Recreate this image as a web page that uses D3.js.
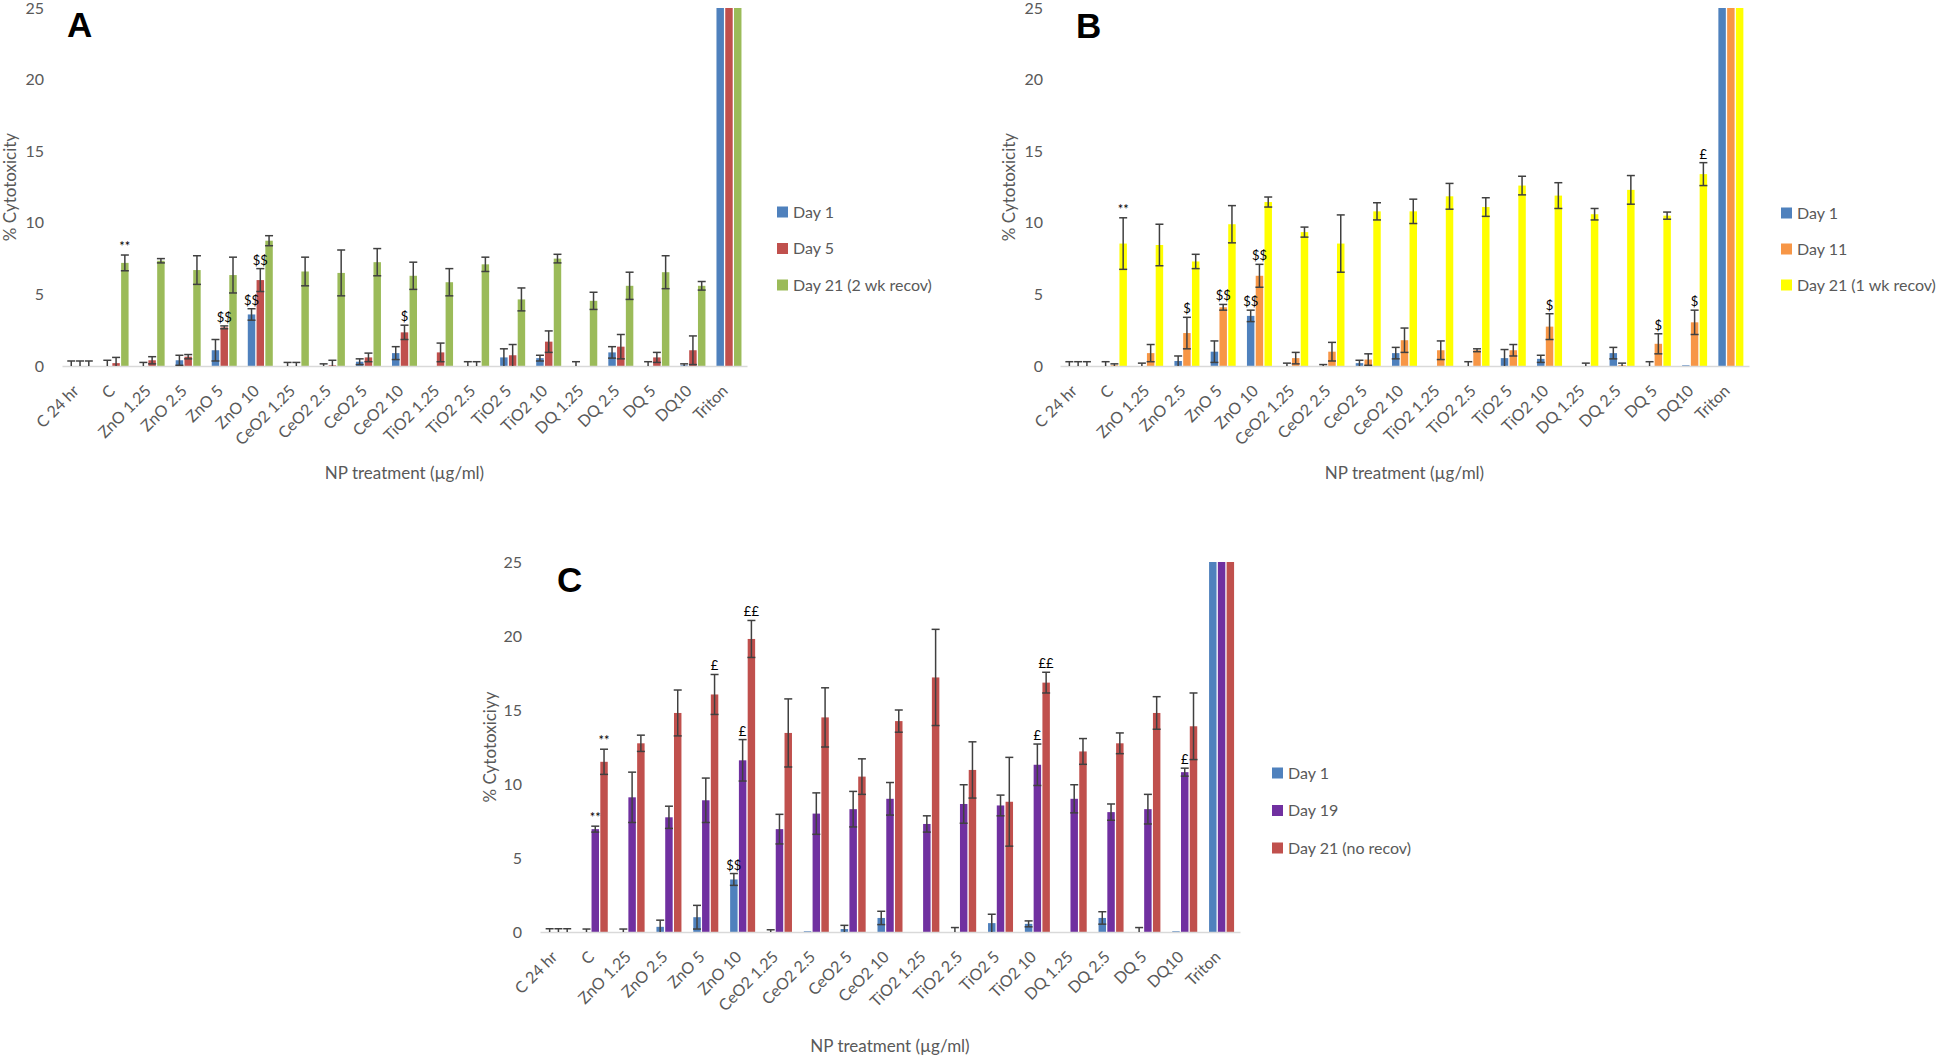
<!DOCTYPE html>
<html>
<head>
	<title>NP cytotoxicity</title>
	<script src="https://d3js.org/d3.v7.min.js"></script>
	<style type="text/css">
	html, body{
		margin:0;
		background:#fff;
	}
	svg text{
		font-family: Lato, "Open Sans", sans-serif;
	}
	</style>
</head>
<body>
<svg id="chart" width="1946" height="1057"></svg>
<script type="text/javascript">

var cats = ["C 24 hr","C","ZnO 1.25","ZnO 2.5","ZnO 5","ZnO 10","CeO2 1.25","CeO2 2.5","CeO2 5","CeO2 10","TiO2 1.25","TiO2 2.5","TiO2 5","TiO2 10","DQ 1.25","DQ 2.5","DQ 5","DQ10","Triton"];
var yTicks = [0, 5, 10, 15, 20, 25];

// panel A
var a_day1      = [0, 0, 0, 0.4, 1.1, 3.6, 0, 0, 0.3, 0.9, 0, 0, 0.6, 0.55, 0, 0.95, 0, 0.05, 100];
var a_day1_err  = [0.35, 0.4, 0.25, 0.35, 0.75, 0.4, 0.25, 0.15, 0.2, 0.45, 0, 0.3, 0.6, 0.2, 0.3, 0.4, 0.3, 0.1, 0];
var a_day5      = [0, 0.2, 0.4, 0.65, 2.7, 6.0, 0, 0.05, 0.6, 2.35, 0.95, 0, 0.75, 1.7, 0, 1.35, 0.6, 1.1, 100];
var a_day5_err  = [0.35, 0.4, 0.25, 0.15, 0.1, 0.8, 0.25, 0.35, 0.3, 0.5, 0.65, 0.3, 0.75, 0.75, 0, 0.85, 0.35, 1.0, 0];
var a_day21     = [0, 7.2, 7.35, 6.7, 6.35, 8.75, 6.6, 6.5, 7.25, 6.3, 5.85, 7.1, 4.65, 7.5, 4.55, 5.6, 6.55, 5.6, 100];
var a_day21_err = [0.35, 0.55, 0.15, 1.0, 1.25, 0.35, 1.0, 1.6, 0.95, 0.95, 0.95, 0.5, 0.8, 0.3, 0.6, 0.95, 1.15, 0.3, 0];
var a_names = ["Day 1", "Day 5", "Day 21 (2 wk recov)"];
var a_notes = [[1,2,"**"],[4,1,"$$"],[5,0,"$$"],[5,1,"$$"],[9,1,"$"]];

// panel B
var b_day1      = [0, 0, 0, 0.35, 1.0, 3.5, 0, 0, 0.2, 0.9, 0, 0, 0.55, 0.5, 0, 0.9, 0, 0.05, 100];
var b_day1_err  = [0.3, 0.3, 0.2, 0.35, 0.75, 0.4, 0.2, 0.1, 0.2, 0.4, 0, 0.3, 0.6, 0.25, 0, 0.4, 0.3, 0, 0];
var b_day11     = [0, 0.05, 0.9, 2.3, 4.1, 6.3, 0.55, 1.0, 0.45, 1.8, 1.1, 1.1, 1.1, 2.75, 0, 0.05, 1.55, 3.05, 100];
var b_day11_err = [0.3, 0.1, 0.6, 1.1, 0.2, 0.8, 0.4, 0.65, 0.4, 0.85, 0.65, 0.1, 0.4, 0.9, 0.2, 0.15, 0.7, 0.85, 0];
var b_day21     = [0, 8.55, 8.45, 7.3, 9.9, 11.45, 9.35, 8.55, 10.8, 10.8, 11.85, 11.1, 12.6, 11.9, 10.6, 12.3, 10.5, 13.4, 100];
var b_day21_err = [0.3, 1.8, 1.45, 0.5, 1.3, 0.35, 0.35, 2.0, 0.6, 0.85, 0.9, 0.65, 0.65, 0.9, 0.4, 1.0, 0.25, 0.8, 0];
var b_names = ["Day 1", "Day 11", "Day 21 (1 wk recov)"];
var b_notes = [[1,2,"**"],[3,1,"$"],[4,1,"$$"],[5,0,"$$"],[5,1,"$$"],[13,1,"$"],[16,1,"$"],[17,1,"$"],[17,2,"£"]];

// panel C
var c_day1      = [0, 0, 0, 0.35, 1.0, 3.55, 0, 0.05, 0.2, 0.95, 0, 0, 0.6, 0.55, 0, 0.95, 0, 0.05, 100];
var c_day1_err  = [0.22, 0.2, 0.2, 0.45, 0.8, 0.4, 0.15, 0, 0.25, 0.45, 0, 0.3, 0.6, 0.2, 0, 0.42, 0.3, 0, 0];
var c_day19     = [0, 6.95, 9.1, 7.75, 8.9, 11.6, 6.95, 8.0, 8.3, 9.0, 7.3, 8.65, 8.55, 11.3, 9.0, 8.1, 8.3, 10.8, 100];
var c_day19_err = [0.22, 0.2, 1.7, 0.75, 1.5, 1.4, 1.0, 1.4, 1.2, 1.1, 0.55, 1.3, 0.7, 1.4, 0.95, 0.55, 1.0, 0.27, 0];
var c_day21     = [0, 11.5, 12.75, 14.8, 16.05, 19.8, 13.45, 14.5, 10.5, 14.25, 17.2, 10.95, 8.8, 16.85, 12.2, 12.75, 14.8, 13.9, 100];
var c_day21_err = [0.22, 0.85, 0.55, 1.55, 1.35, 1.25, 2.3, 2.0, 1.2, 0.75, 3.25, 1.9, 3.0, 0.7, 0.87, 0.7, 1.1, 2.25, 0];
var c_names = ["Day 1", "Day 19", "Day 21 (no recov)"];
var c_notes = [[1,1,"**"],[1,2,"**"],[4,2,"£"],[5,0,"$$"],[5,1,"£"],[5,2,"££"],[13,1,"£"],[13,2,"££"],[17,1,"£"]];

var svg = d3.select("#chart");

function drawPanel(p){
	var g = svg.append("g");

	var x = d3.scaleBand().domain(cats).range([p.x0, p.x1]);
	var xs = d3.scaleBand().domain(d3.range(p.series.length)).range([-12.5, 12.5]).paddingInner(0.15);
	var y = d3.scaleLinear().domain([0, 25]).range([p.base, p.top]).clamp(true);

	function cx(i, si){ return x(cats[i]) + x.bandwidth()/2 + xs(si) + xs.bandwidth()/2; }

	// bars
	p.series.forEach(function(s, si){
		g.append("g").selectAll("rect")
			.data(s.values)
			.enter().append("rect")
			.attr("x", function(d, i){ return cx(i, si) - xs.bandwidth()/2; })
			.attr("width", xs.bandwidth())
			.attr("y", function(d){ return y(d); })
			.attr("height", function(d){ return y(0) - y(d); })
			.attr("fill", s.color);
	});

	// x axis
	var ax = g.append("g")
		.attr("transform", "translate(0," + p.base + ")")
		.call(d3.axisBottom(x).tickSize(0).tickSizeOuter(0));
	ax.attr("font-family", "Lato, sans-serif").attr("font-size", 16);
	ax.select(".domain").attr("stroke", "#d9d9d9").attr("stroke-width", 1.5);
	ax.selectAll(".tick text")
		.attr("x", 0).attr("y", 0).attr("dy", "0.35em")
		.attr("text-anchor", "end")
		.attr("fill", "#595959")
		.attr("transform", "translate(-4,22) rotate(-45)");

	// y axis
	var ay = g.append("g")
		.attr("transform", "translate(" + p.tickX + ",0)")
		.call(d3.axisLeft(y).tickValues(yTicks).tickSize(0).tickPadding(0));
	ay.attr("font-family", "Lato, sans-serif").attr("font-size", 16);
	ay.select(".domain").remove();
	ay.selectAll(".tick text").attr("fill", "#595959");

	// error bars
	var eb = g.append("g").attr("stroke", "#404040").attr("stroke-width", 1.5);
	p.series.forEach(function(s, si){
		s.values.forEach(function(v, i){
			var e = s.err[i];
			if(!e) return;
			var xc = cx(i, si);
			var lo = Math.max(0, v - e), hi = v + e;
			eb.append("line").attr("x1", xc).attr("x2", xc).attr("y1", y(lo)).attr("y2", y(hi));
			eb.append("line").attr("x1", xc - 4).attr("x2", xc + 4).attr("y1", y(hi)).attr("y2", y(hi));
			if(v - e > 0)
				eb.append("line").attr("x1", xc - 4).attr("x2", xc + 4).attr("y1", y(lo)).attr("y2", y(lo));
		});
	});

	// significance marks
	g.append("g").selectAll("text")
		.data(p.notes)
		.enter().append("text")
		.attr("x", function(d){ return cx(d[0], d[1]); })
		.attr("y", function(d){ var s = p.series[d[1]]; return y(s.values[d[0]] + s.err[d[0]]) - 4; })
		.attr("text-anchor", "middle")
		.attr("font-size", 13)
		.attr("fill", "#000")
		.text(function(d){ return d[2]; });

	// axis titles
	g.append("text")
		.attr("transform", "translate(" + p.yLabX + "," + ((p.top + p.base)/2) + ") rotate(-90)")
		.attr("text-anchor", "middle").attr("dy", "0.35em")
		.attr("font-size", 17).attr("fill", "#595959")
		.text(p.yTitle);
	g.append("text")
		.attr("x", (p.x0 + p.x1)/2).attr("y", p.xTitleY)
		.attr("text-anchor", "middle").attr("dy", "0.35em")
		.attr("font-size", 17).attr("fill", "#595959")
		.text("NP treatment (\u00b5g/ml)");

	// panel letter
	g.append("text")
		.attr("x", p.letX).attr("y", p.letY)
		.style("font-family", "'Liberation Sans', Arial, sans-serif")
		.attr("font-weight", "bold").attr("font-size", 35)
		.text(p.letter);

	// legend
	var lg = g.append("g").selectAll("g")
		.data(p.series)
		.enter().append("g")
		.attr("transform", function(d, i){ return "translate(" + p.legX + "," + (p.legY + i*p.legGap) + ")"; });
	lg.append("rect").attr("x", 0).attr("y", -5.5).attr("width", 11).attr("height", 11)
		.attr("fill", function(d){ return d.color; });
	lg.append("text").attr("x", 16).attr("dy", "0.35em")
		.attr("font-size", 16).attr("fill", "#595959")
		.text(function(d){ return d.name; });
}

drawPanel({
	letter: "A", letX: 67, letY: 37,
	x0: 62, x1: 747, top: 8, base: 366, tickX: 44, yLabX: 10, xTitleY: 473,
	legX: 777, legY: 212, legGap: 36.5,
	yTitle: "% Cytotoxicity",
	series: [
		{name: a_names[0], color: "#4f81bd", values: a_day1, err: a_day1_err},
		{name: a_names[1], color: "#c0504d", values: a_day5, err: a_day5_err},
		{name: a_names[2], color: "#9bbb59", values: a_day21, err: a_day21_err}
	],
	notes: a_notes
});

drawPanel({
	letter: "B", letX: 1076, letY: 38,
	x0: 1060, x1: 1749, top: 8, base: 366, tickX: 1043, yLabX: 1009, xTitleY: 473,
	legX: 1781, legY: 213, legGap: 36,
	yTitle: "% Cytotoxicity",
	series: [
		{name: b_names[0], color: "#4f81bd", values: b_day1, err: b_day1_err},
		{name: b_names[1], color: "#f79646", values: b_day11, err: b_day11_err},
		{name: b_names[2], color: "#ffff00", values: b_day21, err: b_day21_err}
	],
	notes: b_notes
});

drawPanel({
	letter: "C", letX: 557, letY: 592,
	x0: 540, x1: 1240, top: 562, base: 932, tickX: 522, yLabX: 490, xTitleY: 1046,
	legX: 1272, legY: 773, legGap: 37.5,
	yTitle: "% Cytotoxiciyy",
	series: [
		{name: c_names[0], color: "#4f81bd", values: c_day1, err: c_day1_err},
		{name: c_names[1], color: "#7030a0", values: c_day19, err: c_day19_err},
		{name: c_names[2], color: "#c0504d", values: c_day21, err: c_day21_err}
	],
	notes: c_notes
});

</script>
</body>
</html>
